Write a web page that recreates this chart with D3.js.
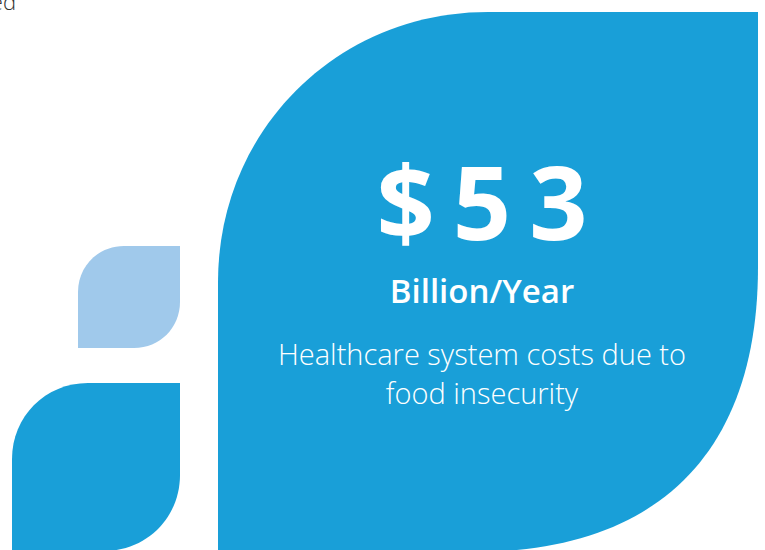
<!DOCTYPE html>
<meta charset="utf-8">
<script src="https://d3js.org/d3.v7.min.js"></script>
<style>
  body { margin: 0; background: #fff; }
  svg { display: block; }
</style>
<div id="my_dataviz"></div>
<script>

// the figure and its caption
var amount = [53];
var unit = ["Billion/Year"];
var caption = ["Healthcare system costs due to", "food insecurity"];
var cutText = ["ed"];

var width = 765,
    height = 550;

var svg = d3.select("#my_dataviz")
    .append("svg")
    .attr("width", width)
    .attr("height", height);

// leaf = square with top-left (r1) and bottom-right (r2) corners rounded
function leaf(x0, y0, s, r1, r2, k1, k2) {
    var a = k1 * r1,
        b = k2 * r2,
        x1 = x0 + s,
        y1 = y0 + s,
        p = d3.path();
    p.moveTo(x0 + r1, y0);
    p.lineTo(x1, y0);
    p.lineTo(x1, y1 - r2);
    p.bezierCurveTo(x1, y1 - r2 + b, x1 - r2 + b, y1, x1 - r2, y1);
    p.lineTo(x0, y1);
    p.lineTo(x0, y0 + r1);
    p.bezierCurveTo(x0, y0 + r1 - a, x0 + r1 - a, y0, x0 + r1, y0);
    p.closePath();
    return p.toString();
}

svg.append("path")
    .attr("d", leaf(78, 246, 102, 46, 46, 0.56, 0.56))
    .style("fill", "#a0c9eb");

svg.append("path")
    .attr("d", leaf(12, 383, 168, 76, 76, 0.56, 0.56))
    .style("fill", "#199fd8");

svg.append("path")
    .attr("d", leaf(218, 12, 540, 270, 285, 0.56, 0.65))
    .style("fill", "#199fd8");

var cx = 482;
var fmt = d3.format("$d");

svg.append("text")
    .attr("x", cx + 9)
    .attr("y", 240)
    .attr("text-anchor", "middle")
    .style("font-family", "'Open Sans', sans-serif")
    .style("font-weight", 700)
    .style("font-size", "102px")
    .style("letter-spacing", "18px")
    .style("fill", "#fff")
    .text(fmt(amount[0]));

svg.append("text")
    .attr("x", cx)
    .attr("y", 303)
    .attr("text-anchor", "middle")
    .style("font-family", "'Open Sans', sans-serif")
    .style("font-weight", 600)
    .style("font-size", "33px")
    .style("fill", "#fff")
    .text(unit[0]);

svg.selectAll("text.cap")
    .data(caption)
    .enter().append("text")
    .attr("class", "cap")
    .attr("x", cx)
    .attr("y", function (d, i) { return 365 + i * 39; })
    .attr("text-anchor", "middle")
    .style("font-family", "'Open Sans', sans-serif")
    .style("font-weight", 300)
    .style("font-size", "29px")
    .style("fill", "#fff")
    .text(function (d) { return d; });

svg.append("text")
    .attr("x", 16)
    .attr("y", 10)
    .attr("text-anchor", "end")
    .style("font-family", "'Open Sans', sans-serif")
    .style("font-weight", 300)
    .style("font-size", "22px")
    .style("fill", "#333")
    .text(cutText[0]);
</script>
